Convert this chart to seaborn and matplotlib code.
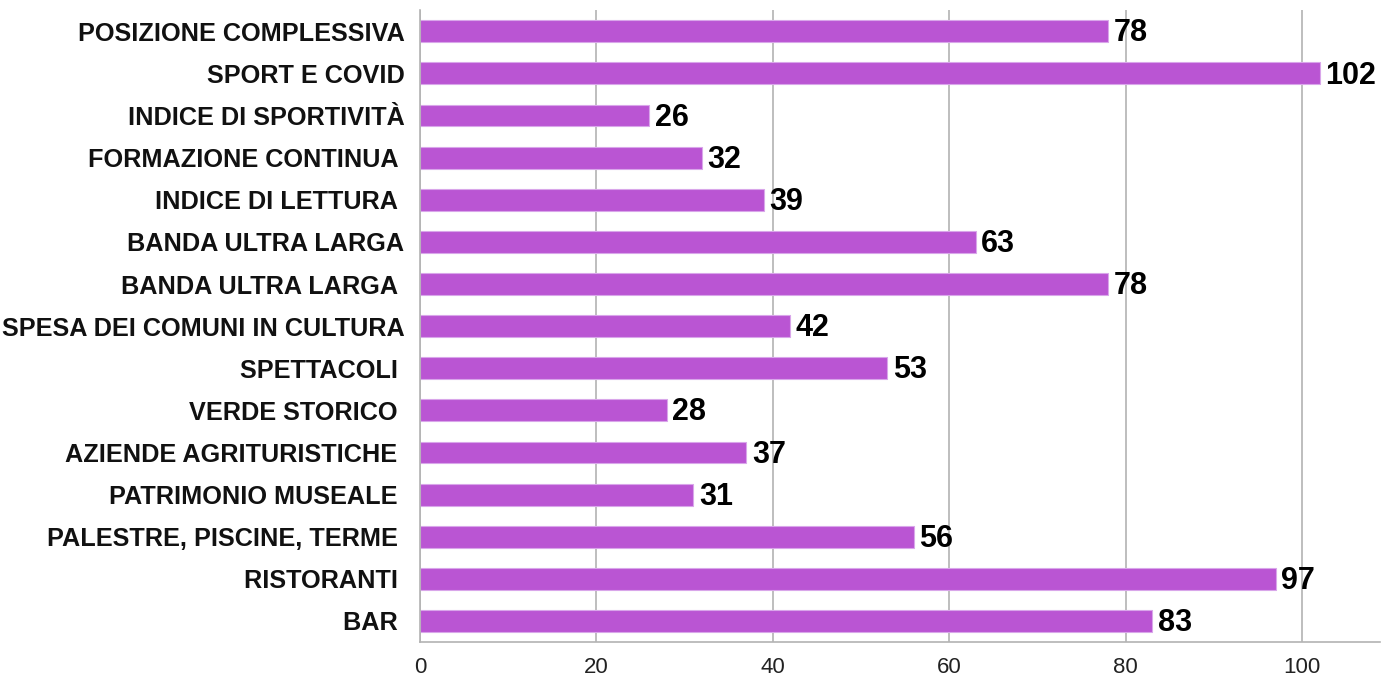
import numpy as np
import pandas as pd
import matplotlib
matplotlib.use("Agg")
import matplotlib.pyplot as plt
import seaborn as sns

categories = [
    "POSIZIONE COMPLESSIVA",
    "SPORT E COVID",
    "INDICE DI SPORTIVITÀ",
    "FORMAZIONE CONTINUA ",
    "INDICE DI LETTURA ",
    "BANDA ULTRA LARGA",
    "BANDA ULTRA LARGA ",
    "SPESA DEI COMUNI IN CULTURA",
    "SPETTACOLI ",
    "VERDE STORICO ",
    "AZIENDE AGRITURISTICHE ",
    "PATRIMONIO MUSEALE ",
    "PALESTRE, PISCINE, TERME ",
    "RISTORANTI ",
    "BAR ",
]
values = [78, 102, 26, 32, 39, 63, 78, 42, 53, 28, 37, 31, 56, 97, 83]
x_ticks = [0, 20, 40, 60, 80, 100]

BAR_COLOR = "#BA55D3"
GRID_COLOR = "#b3b3b3"

sns.set_style("white")
plt.rcParams["font.family"] = ["Liberation Sans", "DejaVu Sans"]

df = pd.DataFrame({"cat": categories, "val": values})

fig = plt.figure(figsize=(13.81, 6.83), dpi=100)
ax = fig.add_axes([0.304, 0.06, 0.695, 0.925])

sns.barplot(data=df, x="val", y="cat", color=BAR_COLOR, width=0.52,
            saturation=1, ax=ax, edgecolor="#d9a6ea", linewidth=0.8)

# value labels just right of each bar end
for i, v in enumerate(values):
    ax.annotate(str(v), xy=(v, i), xytext=(4, -1.5), textcoords="offset points",
                va="center", ha="left", fontsize=22, fontweight="bold",
                color="black")

ax.set_xlim(0, 108.8)
ax.set_ylim(len(categories) - 0.5, -0.5)
ax.set_xticks(x_ticks)
ax.set_xticklabels([str(t) for t in x_ticks], fontsize=16, color="#222222")
ax.set_yticks(np.arange(len(categories)))
ax.set_yticklabels(categories, fontsize=18.2, fontweight="bold", color="#111111")
ax.tick_params(axis="y", length=0, pad=11)
ax.tick_params(axis="x", length=6, color=GRID_COLOR, pad=5)

# small ticks at the category boundaries
ax.set_yticks(np.arange(-0.5, len(categories) + 0.5, 1), minor=True)
ax.tick_params(axis="y", which="minor", length=6, color=GRID_COLOR)

ax.xaxis.grid(True, color=GRID_COLOR, linewidth=1.2)
ax.set_axisbelow(True)
ax.set_xlabel("")
ax.set_ylabel("")
for side in ["top", "right"]:
    ax.spines[side].set_visible(False)
for side in ["left", "bottom"]:
    ax.spines[side].set_color(GRID_COLOR)
    ax.spines[side].set_linewidth(1.2)

fig.savefig("out.png", dpi=100)
